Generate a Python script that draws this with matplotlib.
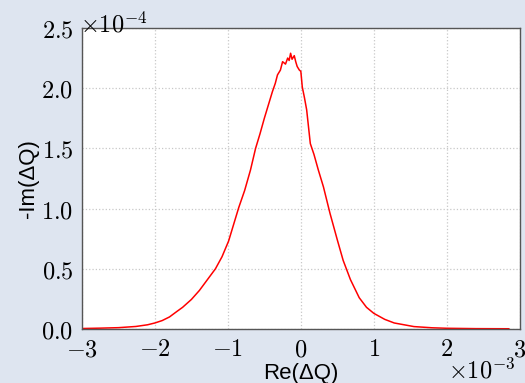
import matplotlib
matplotlib.use("Agg")
import matplotlib.pyplot as plt
from matplotlib.ticker import FuncFormatter, MultipleLocator

plt.rcParams['mathtext.fontset'] = 'cm'

# Re(dQ) in units of 1e-3, -Im(dQ) in units of 1e-4
re_dq = [-3.0, -2.75, -2.5, -2.26, -2.1, -2.0, -1.9, -1.8, -1.7, -1.62,
         -1.5, -1.39, -1.28,
         -1.17, -1.08, -0.99, -0.92, -0.85, -0.77, -0.69, -0.62, -0.56, -0.50,
         -0.45, -0.39, -0.35, -0.32, -0.28, -0.25, -0.21, -0.18, -0.16, -0.14,
         -0.12, -0.09, -0.07, -0.05, -0.02, 0.0, 0.02, 0.05, 0.08, 0.13,
         0.18, 0.24, 0.31, 0.40, 0.50, 0.58, 0.68, 0.8, 0.9, 1.0, 1.15, 1.28,
         1.55, 1.8, 2.0, 2.4, 2.85]
im_dq = [0.004, 0.007, 0.011, 0.021, 0.035, 0.05, 0.07, 0.1, 0.145, 0.18,
         0.245, 0.32, 0.41,
         0.50, 0.60, 0.73, 0.87, 1.01, 1.15, 1.32, 1.50, 1.62, 1.75,
         1.85, 1.97, 2.04, 2.11, 2.15, 2.22, 2.20, 2.25, 2.23, 2.29,
         2.24, 2.27, 2.22, 2.18, 2.15, 2.14, 2.01, 1.92, 1.82, 1.54,
         1.45, 1.32, 1.18, 0.96, 0.74, 0.57, 0.41, 0.26, 0.18, 0.13, 0.08, 0.05,
         0.02, 0.01, 0.006, 0.003, 0.002]

x = [v * 1e-3 for v in re_dq]
y = [v * 1e-4 for v in im_dq]

fig = plt.figure(figsize=(5.25, 3.83), dpi=100, facecolor='#dee5f0')
ax = fig.add_axes([0.156, 0.141, 0.834, 0.786])
ax.plot(x, y, color='#ff0000', lw=1.1)

ax.set_xlim(-3e-3, 3e-3)
ax.set_ylim(0, 2.5e-4)
ax.xaxis.set_major_locator(MultipleLocator(1e-3))
ax.yaxis.set_major_locator(MultipleLocator(0.5e-4))
ax.xaxis.set_major_formatter(FuncFormatter(lambda v, p: r'$%d$' % round(v * 1e3)))
ax.yaxis.set_major_formatter(FuncFormatter(lambda v, p: r'$%.1f$' % (v * 1e4)))
ax.tick_params(labelsize=17.5, length=0, pad=6)
ax.grid(True, color='#c8c8c8', linestyle=':', lw=0.9)
for s in ax.spines.values():
    s.set_color('#555555')
    s.set_linewidth(1.0)

ax.text(-0.005, 0.985, r'$\times10^{-4}$', transform=ax.transAxes,
        ha='left', va='baseline', fontsize=17.5)
ax.text(0.989, -0.163, r'$\times10^{-3}$', transform=ax.transAxes,
        ha='right', va='baseline', fontsize=17.5)

ax.set_xlabel(u'Re(\u0394Q)', family='Liberation Sans', fontsize=16, labelpad=1)
ax.set_ylabel(u'-Im(\u0394Q)', family='Liberation Sans', fontsize=16, labelpad=2)

fig.savefig('out.png', facecolor=fig.get_facecolor())
